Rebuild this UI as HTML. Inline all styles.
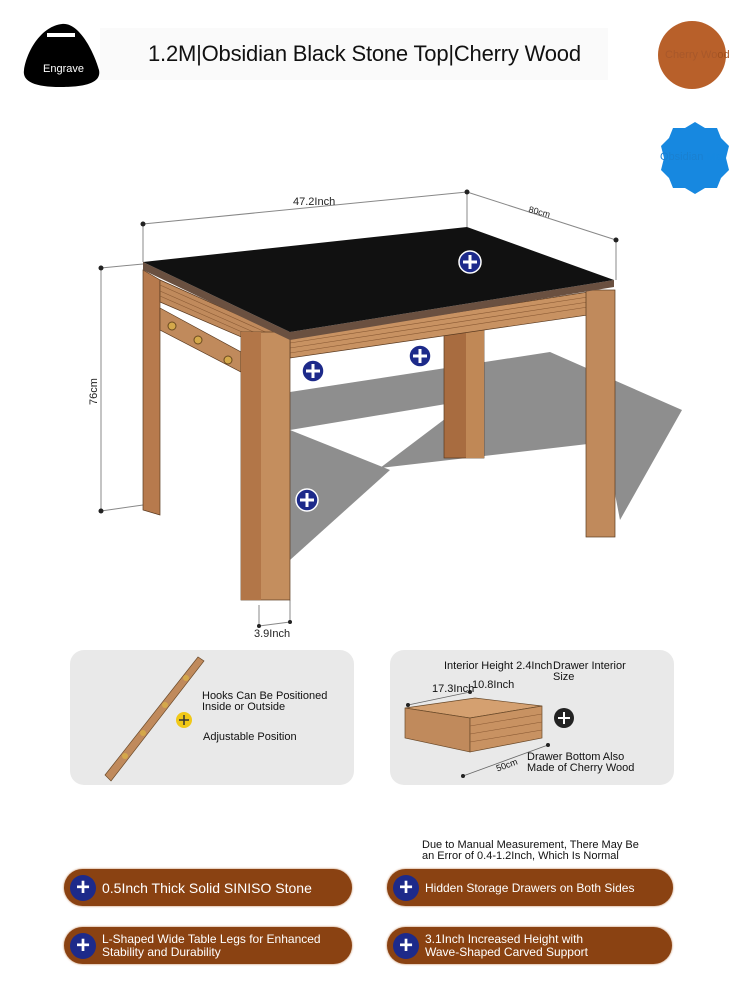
<!DOCTYPE html>
<html><head><style>
body{margin:0;width:750px;height:1000px;background:#fff;font-family:"Liberation Sans",sans-serif;position:relative;overflow:hidden}
.abs{position:absolute}
.pill{position:absolute;height:37px;border-radius:19px;background:#8a4212;color:#fff;font-size:12px;display:flex;align-items:center;box-shadow:0 0 2px #b87a4a}
.pill .p{width:26px;height:26px;border-radius:50%;background:#1d2a8a;margin:0 6px 0 6px;color:#fff;font-size:24px;line-height:25px;text-align:center;font-weight:bold;flex:none}
.card{position:absolute;background:#e9e9e9;border-radius:14px}
.t{position:absolute;font-size:11px;color:#111;line-height:11px}
</style></head><body>
<svg class="abs" style="left:0;top:0" width="750" height="1000">
 <path d="M62 24 C80 22 95 55 99 70 C102 84 82 87 60 87 C36 87 22 82 24 70 C27 50 42 26 62 24Z" fill="#000"/>
 <rect x="47" y="33" width="28" height="4" fill="#fff"/>
 <rect x="100" y="28" width="508" height="52" fill="#fafafa"/>
 <circle cx="692" cy="55" r="34" fill="#b8602a"/>
 <path d="M695 122 l10 6 12 0 4 10 8 8 -3 12 3 12 -8 8 -4 10 -12 0 -10 6 -10 -6 -12 0 -4 -10 -8 -8 3 -12 -3 -12 8 -8 4 -10 12 0Z" fill="#1788e0"/>
 <polygon points="290,392 550,352 682,410 620,520 605,442 380,468 470,400 290,430" fill="#8e8e8e"/>
 <polygon points="290,430 390,470 290,560" fill="#8e8e8e"/>
 <g stroke="#888" stroke-width="1" fill="none">
  <line x1="143" y1="224" x2="467" y2="192"/><line x1="467" y1="192" x2="616" y2="240"/>
  <line x1="143" y1="224" x2="143" y2="262"/><line x1="467" y1="192" x2="467" y2="227"/><line x1="616" y1="240" x2="616" y2="280"/>
  <line x1="101" y1="268" x2="101" y2="511"/><line x1="101" y1="268" x2="143" y2="264"/><line x1="101" y1="511" x2="143" y2="505"/>
  <line x1="259" y1="626" x2="290" y2="622"/><line x1="259" y1="605" x2="259" y2="626"/><line x1="290" y1="600" x2="290" y2="622"/>
 </g>
 <g fill="#222"><circle cx="143" cy="224" r="2.5"/><circle cx="467" cy="192" r="2.5"/><circle cx="616" cy="240" r="2.5"/><circle cx="101" cy="268" r="2.5"/><circle cx="101" cy="511" r="2.5"/><circle cx="259" cy="626" r="2"/><circle cx="290" cy="622" r="2"/></g>
 <text x="293" y="205" font-size="11" fill="#222">47.2Inch</text>
 <text x="528" y="212" font-size="9" fill="#222" transform="rotate(15 528 212)">80cm</text>
 <text x="97" y="405" font-size="11" fill="#222" transform="rotate(-90 97 405)">76cm</text>
 <text x="254" y="637" font-size="11" fill="#222">3.9Inch</text>
 <polygon points="143,270 160,280 160,515 143,510" fill="#b77a4d" stroke="#5a3a20" stroke-width="0.7"/>
 <rect x="444" y="325" width="40" height="133" fill="#a86c40" stroke="#5a3a20" stroke-width="0.7"/>
 <rect x="466" y="325" width="18" height="133" fill="#c08856"/>
 <polygon points="160,280 290,338 290,358 160,302" fill="#c08a5c" stroke="#5a3a20" stroke-width="0.7"/>
 <polygon points="290,338 588,292 588,315 290,358" fill="#c89262" stroke="#5a3a20" stroke-width="0.7"/>
 <g stroke="#8a5a34" stroke-width="0.6">
  <line x1="290" y1="343" x2="588" y2="297"/><line x1="290" y1="348" x2="588" y2="302"/><line x1="290" y1="353" x2="588" y2="307"/>
  <line x1="160" y1="285" x2="290" y2="343"/><line x1="160" y1="291" x2="290" y2="348"/><line x1="160" y1="296" x2="290" y2="353"/>
 </g>
 <polygon points="160,308 241,352 241,372 160,330" fill="#c08a5c" stroke="#5a3a20" stroke-width="0.7"/>
 <g fill="#d4a84a" stroke="#6a4a20"><circle cx="172" cy="326" r="4"/><circle cx="198" cy="340" r="4"/><circle cx="228" cy="360" r="4"/></g>
 <rect x="586" y="290" width="29" height="247" fill="#c08a5c" stroke="#5a3a20" stroke-width="0.7"/>
 <rect x="241" y="332" width="49" height="268" fill="#c48e5e" stroke="#5a3a20" stroke-width="0.7"/>
 <rect x="241" y="332" width="20" height="268" fill="#b27648"/>
 <polygon points="143,262 290,332 614,280 614,287 290,340 143,270" fill="#6a5040"/>
 <polygon points="143,262 467,227 614,280 290,332" fill="#111"/>
 <g fill="#1d2a8a" stroke="#fff" stroke-width="1.5">
  <circle cx="470" cy="262" r="11"/><circle cx="313" cy="371" r="11"/><circle cx="420" cy="356" r="11"/><circle cx="307" cy="500" r="11"/>
 </g>
 <g stroke="#fff" stroke-width="3">
  <path d="M463 262h14M470 255v14M306 371h14M313 364v14M413 356h14M420 349v14M300 500h14M307 493v14"/>
 </g>
</svg>
<div class="t" style="left:43px;top:64px;color:#fff;font-size:11px">Engrave</div>
<div class="abs" style="left:148px;top:41px;font-size:22px;color:#111;letter-spacing:-0.2px">1.2M|Obsidian Black Stone Top|Cherry Wood</div>
<div class="t" style="left:665px;top:50px;color:#a8582a">Cherry Wo<span style="color:#a0501e">od</span></div>
<div class="t" style="left:660px;top:152px;color:#1a80d0">Obsidian <span style="color:#1788e0">Mat</span></div>

<div class="card" style="left:70px;top:650px;width:284px;height:135px"></div>
<div class="card" style="left:390px;top:650px;width:284px;height:135px"></div>
<svg class="abs" style="left:0;top:0" width="750" height="1000">
 <polygon points="105,775 198,657 204,661 111,781" fill="#c08a5c" stroke="#6a4a2a" stroke-width="0.7"/>
 <g fill="#d4a84a"><circle cx="125" cy="756" r="3"/><circle cx="143" cy="733" r="3"/><circle cx="165" cy="705" r="3"/><circle cx="186" cy="678" r="3"/></g>
 <circle cx="184" cy="720" r="8" fill="#f0c818"/><path d="M179 720h10M184 715v10" stroke="#333" stroke-width="1.5"/>
 <polygon points="405,708 475,698 542,706 470,718" fill="#d4a070" stroke="#6a4a2a" stroke-width="0.7"/>
 <polygon points="405,708 470,718 470,752 405,738" fill="#c08a5c" stroke="#6a4a2a" stroke-width="0.7"/>
 <polygon points="470,718 542,706 542,738 470,752" fill="#c89262" stroke="#6a4a2a" stroke-width="0.7"/>
 <g stroke="#8a5a34" stroke-width="0.6"><line x1="470" y1="726" x2="542" y2="714"/><line x1="470" y1="734" x2="542" y2="722"/><line x1="470" y1="742" x2="542" y2="730"/></g>
 <g stroke="#666" stroke-width="0.8"><line x1="408" y1="705" x2="470" y2="692"/><line x1="463" y1="776" x2="548" y2="745"/></g>
 <g fill="#222"><circle cx="408" cy="705" r="2"/><circle cx="470" cy="692" r="2"/><circle cx="463" cy="776" r="2"/><circle cx="548" cy="745" r="2"/></g>
 <circle cx="564" cy="718" r="10" fill="#222"/><path d="M558 718h12M564 712v12" stroke="#fff" stroke-width="2"/>
</svg>
<div class="t" style="left:202px;top:691px">Hooks Can Be Positioned<br>Inside or Outside</div>
<div class="t" style="left:203px;top:732px">Adjustable Position</div>
<div class="t" style="left:444px;top:661px">Interior Height 2.4Inch</div>
<div class="t" style="left:553px;top:661px">Drawer Interior<br>Size</div>
<div class="t" style="left:432px;top:684px">17.3Inch</div>
<div class="t" style="left:472px;top:680px">10.8Inch</div>
<div class="t" style="left:496px;top:760px;font-size:9px;transform:rotate(-20deg)">50cm</div>
<div class="t" style="left:527px;top:752px">Drawer Bottom Also<br>Made of Cherry Wood</div>
<div class="t" style="left:422px;top:840px">Due to Manual Measurement, There May Be<br>an Error of 0.4-1.2Inch, Which Is Normal</div>

<div class="pill" style="left:64px;top:869px;width:288px;font-size:14px"><div class="p">+</div>0.5Inch Thick Solid SINISO Stone</div>
<div class="pill" style="left:387px;top:869px;width:286px"><div class="p">+</div>Hidden Storage Drawers on Both Sides</div>
<div class="pill" style="left:64px;top:927px;width:288px;line-height:13px"><div class="p">+</div>L-Shaped Wide Table Legs for Enhanced<br>Stability and Durability</div>
<div class="pill" style="left:387px;top:927px;width:285px;line-height:13px"><div class="p">+</div>3.1Inch Increased Height with<br>Wave-Shaped Carved Support</div>
</body></html>
